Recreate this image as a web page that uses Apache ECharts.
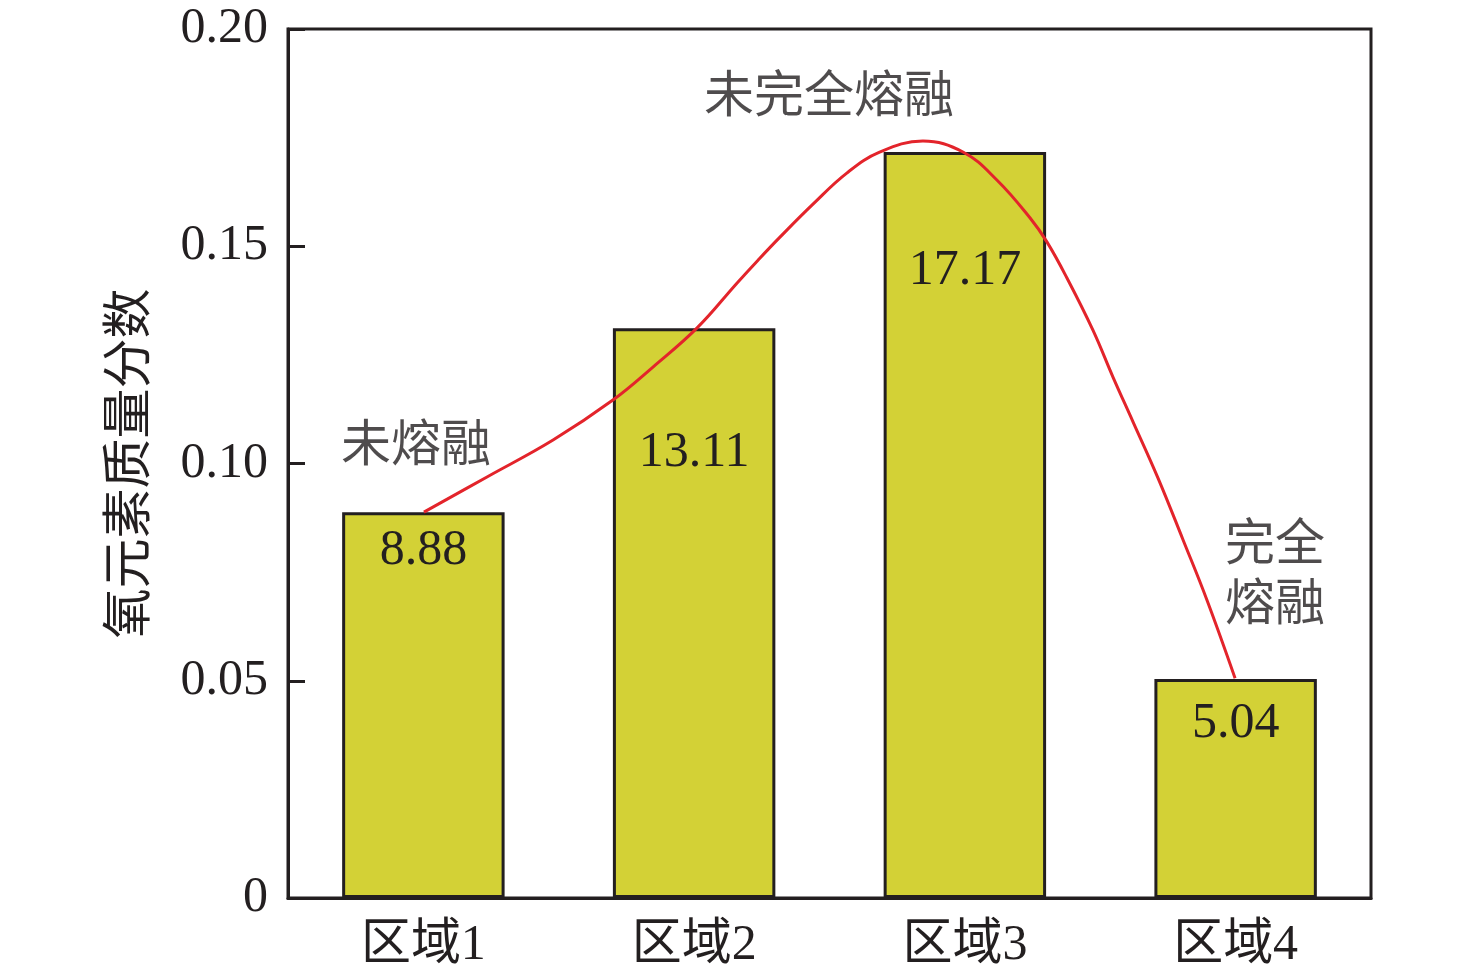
<!DOCTYPE html>
<html>
<head>
<meta charset="utf-8">
<script src="https://cdn.jsdelivr.net/npm/echarts@6/dist/echarts.min.js"></script>
<style>
html,body{margin:0;padding:0;background:#fff;}
#chart{width:1476px;height:978px;}
</style>
</head>
<body>
<div id="chart"></div>
<script>
// ---- data ----
const categories = ['区域1', '区域2', '区域3', '区域4'];
const oxygenFraction = [0.0888, 0.1311, 0.1717, 0.0504];
const yTicks = [0, 0.05, 0.10, 0.15, 0.20];
// red trend curve (x in category units, 0..4; y in value units)
const curveX = [0.502, 0.735, 0.979, 1.200, 1.348, 1.511, 1.658, 1.736, 1.817, 1.939, 2.065, 2.187, 2.345,
                2.493, 2.619, 2.741, 2.803, 2.877, 2.973, 3.047, 3.121, 3.213, 3.306, 3.394, 3.498];
const curveY = [0.0888, 0.0969, 0.1054, 0.1146, 0.1222, 0.1312, 0.1415, 0.1468, 0.1521, 0.1597, 0.1669, 0.1717, 0.1742,
                0.1717, 0.1652, 0.1565, 0.1510, 0.1427, 0.1307, 0.1199, 0.1096, 0.0967, 0.0824, 0.0686, 0.0506];
// annotations
const noteText = ['未熔融', '未完全熔融', '完全\n熔融'];
const noteX = [0.473, 1.998, 3.645];
const noteY = [0.1036, 0.1840, 0.0739];

// ---- styles ----
const FONT = '"Liberation Serif", "Times New Roman", "Noto Sans CJK SC", serif';
const TEXT = '#231f20';
const labelDistance = [14, 100, 94, 20];

const chart = echarts.init(document.getElementById('chart'));
const option = {
  animation: false,
  backgroundColor: '#fff',
  grid: { left: 288, right: 105, top: 29, bottom: 80, show: true, borderColor: TEXT, borderWidth: 3 },
  xAxis: [
    {
      type: 'category', data: categories,
      axisLine: { lineStyle: { color: TEXT, width: 3 } },
      axisTick: { show: false },
      axisLabel: { color: TEXT, fontSize: 50, fontFamily: FONT, margin: 23 }
    },
    { type: 'value', min: 0, max: 4, show: false }
  ],
  yAxis: {
    type: 'value', min: 0, max: 0.2, interval: 0.05,
    name: '氧元素质量分数', nameLocation: 'middle', nameGap: 131,
    nameTextStyle: { color: TEXT, fontSize: 50, fontFamily: FONT },
    splitLine: { show: false },
    axisLine: { show: true, lineStyle: { color: TEXT, width: 3 } },
    axisTick: { show: true, inside: true, length: 17, lineStyle: { color: TEXT, width: 3 } },
    axisLabel: {
      color: TEXT, fontSize: 50, fontFamily: FONT, margin: 20,
      formatter: v => { const t = yTicks.find(x => Math.abs(x - v) < 1e-9); return t === 0 ? '0' : (t !== undefined ? t.toFixed(2) : ''); }
    }
  },
  series: [
    {
      type: 'bar', xAxisIndex: 0,
      barCategoryGap: '40%',
      itemStyle: { color: '#d3d136', borderColor: TEXT, borderWidth: 3 },
      data: oxygenFraction.map((v, i) => ({
        value: v,
        label: { distance: labelDistance[i] }
      })),
      label: {
        show: true, position: 'insideTop', color: TEXT, fontSize: 50, fontFamily: FONT,
        formatter: p => (p.value * 100).toFixed(2)
      },
      z: 2
    },
    {
      type: 'line', xAxisIndex: 1, smooth: 0.4, symbol: 'none',
      lineStyle: { color: '#e3242b', width: 3 },
      data: curveX.map((x, i) => [x, curveY[i]]),
      z: 3
    },
    {
      type: 'scatter', xAxisIndex: 1, symbolSize: 0,
      data: noteX.map((x, i) => ({ value: [x, noteY[i]], name: noteText[i] })),
      label: {
        show: true, position: 'inside', color: TEXT, fontSize: 50, fontFamily: FONT,
        lineHeight: 60, formatter: p => p.name
      },
      z: 4
    }
  ]
};
chart.setOption(option);
</script>
</body>
</html>
